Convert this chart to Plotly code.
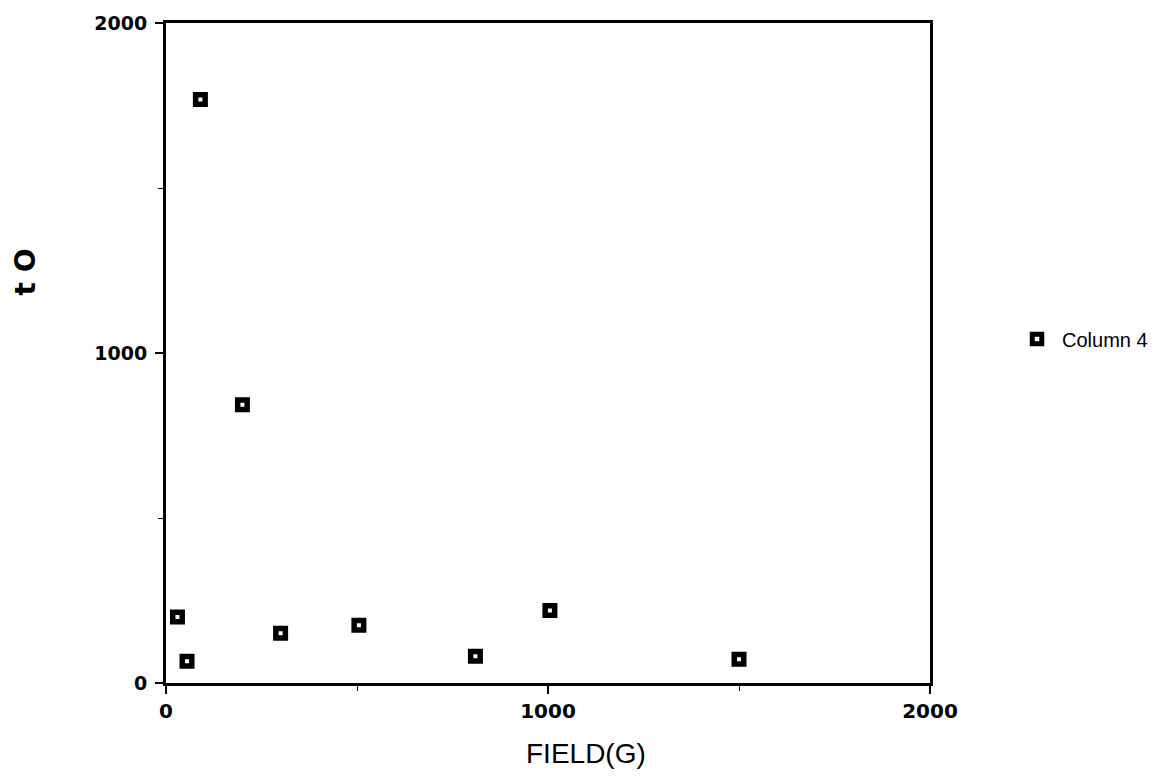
import plotly.graph_objects as go

field_g = [30, 55, 90, 200, 300, 505, 810, 1005, 1500]
t_o = [200, 66, 1768, 843, 151, 175, 81, 220, 72]
series_name = "Column 4"
x_ticks = [0, 1000, 2000]
y_ticks = [0, 1000, 2000]

W, H = 1171, 780
L, R, T, B = 166, 241, 19, 97
pw, ph = W - L - R, H - T - B

fig = go.Figure()
fig.add_trace(go.Scatter(
    x=field_g, y=t_o, mode="markers", name=series_name,
    marker=dict(symbol="square", size=9.5, color="white",
                line=dict(color="black", width=5.5)),
))

axis_common = dict(
    range=[0, 2000], showgrid=False, zeroline=False,
    showline=True, linecolor="black", linewidth=3, mirror=True,
    ticks="outside", ticklen=8, tickwidth=2, tickcolor="black",
    minor=dict(dtick=500, ticks="outside", ticklen=5, tickwidth=1, tickcolor="black"),
)

fig.update_layout(
    width=W, height=H,
    margin=dict(l=L, r=R, t=T, b=B),
    paper_bgcolor="white", plot_bgcolor="white",
    showlegend=True,
    legend=dict(x=(1012 - L) / pw, y=(H - B - 337) / ph, xanchor="left", yanchor="middle",
                font=dict(family="Liberation Sans", size=20, color="black"),
                bgcolor="rgba(0,0,0,0)", itemwidth=40),
    xaxis=dict(**axis_common, tickvals=x_ticks, ticktext=[str(v) for v in x_ticks],
               tickfont=dict(family="DejaVu Sans", size=20, color="black", weight="bold")),
    yaxis=dict(**axis_common, tickvals=y_ticks, ticktext=[str(v) for v in y_ticks],
               ticklabelstandoff=4,
               tickfont=dict(family="DejaVu Sans", size=19, color="black", weight="bold")),
    annotations=[
        dict(text="FIELD(G)", xref="paper", yref="paper", x=(586 - L) / pw, y=(H - B - 754) / ph,
             xanchor="center", yanchor="middle", showarrow=False,
             font=dict(family="Liberation Sans", size=28, color="black")),
        dict(text="t O", xref="paper", yref="paper", x=(25 - L) / pw, y=(H - B - 270) / ph,
             xanchor="center", yanchor="middle", showarrow=False, textangle=-90,
             font=dict(family="DejaVu Sans", size=28, color="black", weight="bold")),
    ],
)

fig.write_html("out.html")
